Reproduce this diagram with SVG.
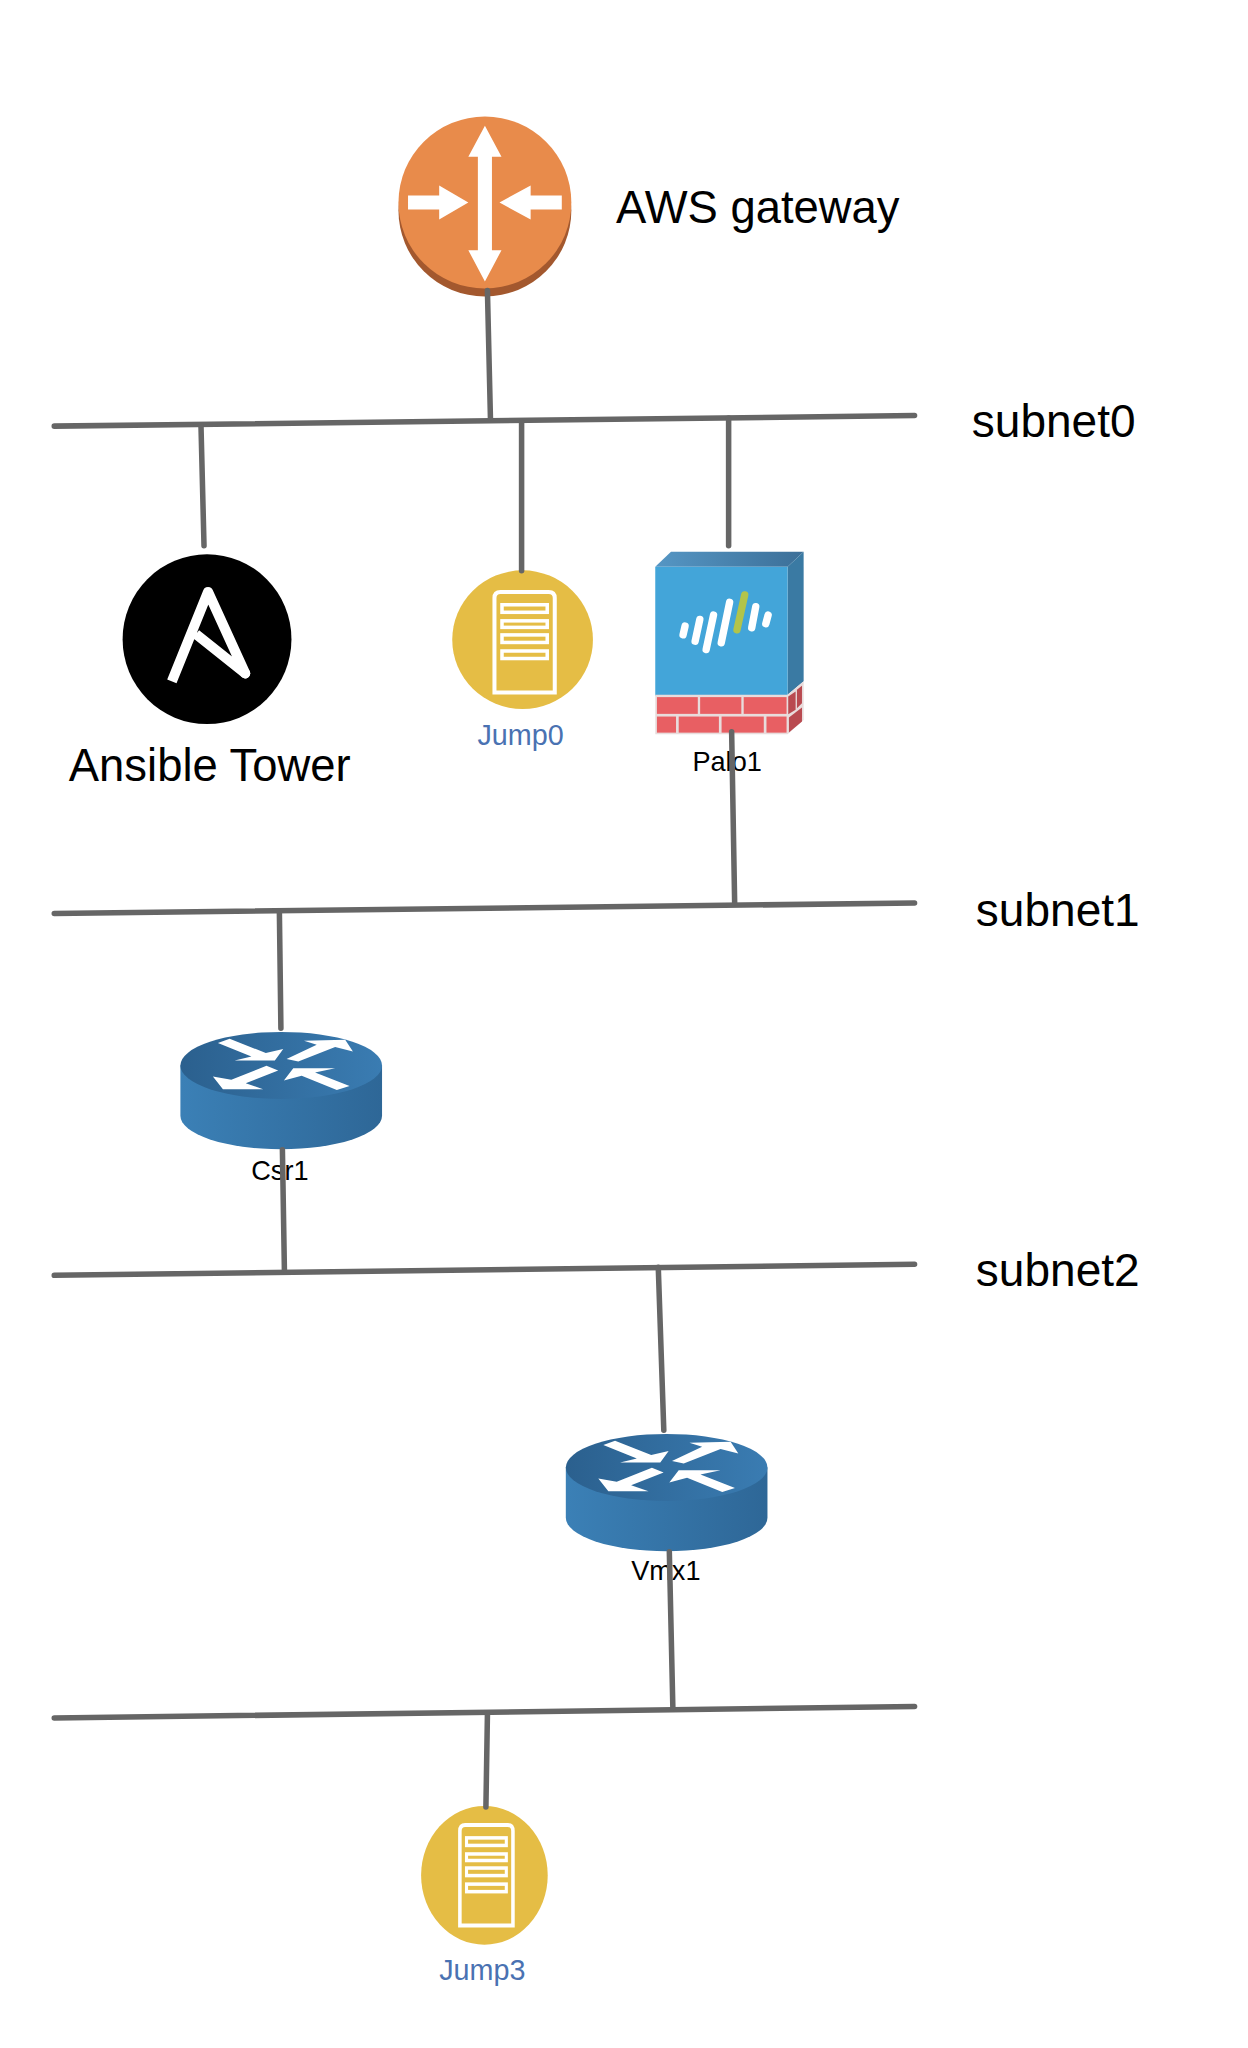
<svg xmlns="http://www.w3.org/2000/svg" width="1248" height="2048" viewBox="0 0 1248 2048">
<style>
text{font-family:"Liberation Sans",Arial,sans-serif;fill:#000}
.big{font-size:45.200px}
.sub{font-size:45.800px}
.small{font-size:27px}
.blue{font-size:28.600px;fill:#4a72b2}
.wire{stroke:#666;stroke-width:5.500;stroke-linecap:round;fill:none}
</style>
<defs>
<linearGradient id="body" x1="0" x2="1" y1="0" y2="0"><stop offset="0" stop-color="#3b80b6"/><stop offset="1" stop-color="#2e6797"/></linearGradient>
<linearGradient id="top" x1="0" x2="1" y1="0" y2="0"><stop offset="0" stop-color="#2b608e"/><stop offset="1" stop-color="#3a7cb2"/></linearGradient>
<linearGradient id="palotop" x1="0" x2="1" y1="0" y2="0"><stop offset="0" stop-color="#5596c4"/><stop offset="1" stop-color="#3c6f98"/></linearGradient>
<g id="router" transform="scale(.3333)">
<path d="M63 197V347A301 100 0 0 0 665 347V197Z" fill="url(#body)"/>
<ellipse cx="364" cy="197" rx="301" ry="100" fill="url(#top)"/>
<g fill="#fff">
<polygon points="175,130 210,117 318,160 370,148 345,182 225,182 275,170"/>
<polygon points="380,178 470,135 432,123 555,120 578,155 525,142 415,185"/>
<polygon points="160,230 190,268 310,268 258,250 355,212 320,198 215,240"/>
<polygon points="372,242 400,205 525,205 465,218 568,258 530,270 425,228"/>
</g>
</g>
<g id="server" fill="none" stroke="#fff">
<path d="M-30 52V-42Q-30 -48 -24 -48H24Q30 -48 30 -42V52Z" stroke-width="4"/>
<g stroke-width="3.500">
<rect x="-22.500" y="-35.250" width="45" height="7.500"/>
<rect x="-22.500" y="-19.250" width="45" height="6.500"/>
<rect x="-22.500" y="-5.250" width="45" height="7.500"/>
<rect x="-22.500" y="10.750" width="45" height="7.500"/>
</g>
</g>
</defs>
<rect width="1248" height="2048" fill="#fff"/>
<g id="diagram" transform="scale(1.005)">
<g id="aws-gateway">
<ellipse cx="482.500" cy="209.500" rx="86" ry="85.500" fill="#a3582e"/>
<ellipse cx="482.500" cy="201.500" rx="86" ry="85.500" fill="#e88b4b"/>
<g fill="#fff">
<polygon points="482.500,125 499,156 489.500,156 489.500,249 499,249 482.500,280 466,249 475.500,249 475.500,156 466,156"/>
<polygon points="406,194.500 437,194.500 437,184.500 466,201.500 437,218.500 437,208.500 406,208.500"/>
<polygon points="559,194.500 528,194.500 528,184.500 497,201.500 528,218.500 528,208.500 559,208.500"/>
</g>
<text class="big" x="613" y="222">AWS gateway</text>
</g>

<g id="ansible-tower">
<ellipse cx="206" cy="636" rx="84" ry="84.500" fill="#000"/>
<path d="M171 678L207 589L244 670L195 631" fill="none" stroke="#fff" stroke-width="10" stroke-linejoin="round"/>
<circle cx="244" cy="670" r="5" fill="#fff"/>
<text class="big" x="68.500" y="777">Ansible Tower</text>
</g>

<g id="jump0">
<ellipse cx="520" cy="636.500" rx="70" ry="69" fill="#e5bd45"/>
<use href="#server" transform="translate(522 637)"/>
<text class="blue" x="475" y="741">Jump0</text>
</g>

<g id="palo1">
<g transform="translate(616 528) scale(.3333)">
<polygon points="108,108 155,63 551,63 503,108" fill="url(#palotop)"/>
<polygon points="503,108 551,63 551,450 503,490" fill="#3a7aa3"/>
<rect x="108" y="108" width="395" height="385" fill="#43a5d9"/>
<polygon points="108,490 503,490 551,450 551,565 503,608 108,608" fill="#e8dcdc"/>
<g fill="#e85f63">
<rect x="113" y="497" width="122" height="50"/><rect x="242" y="497" width="123" height="50"/><rect x="372" y="497" width="128" height="50"/>
<rect x="113" y="555" width="57" height="48"/><rect x="178" y="555" width="120" height="48"/><rect x="306" y="555" width="126" height="48"/><rect x="440" y="555" width="60" height="48"/>
</g>
<g fill="#b94a50">
<polygon points="505,495 527,480 527,535 505,548"/>
<polygon points="531,475 546,463 546,515 531,530"/>
<polygon points="507,558 546,528 546,570 507,603"/>
</g>
<g fill="none" stroke="#fff" stroke-width="22" stroke-linecap="round">
<path d="M197 285L191 311"/><path d="M241 265L227 330"/><path d="M282 252L260 355"/><path d="M330 214L305 335"/><path d="M408 227L396 290"/><path d="M445 252L438 278"/>
<path d="M375 192L352 296" stroke="#b2c44a"/>
</g>
</g>
<text class="small" x="689" y="767">Palo1</text>
</g>

<g id="csr1">
<use href="#router" transform="translate(158.500 994.500)"/>
<text class="small" x="250" y="1174">Csr1</text>
</g>

<g id="vmx1">
<use href="#router" transform="translate(542 1394.500)"/>
<text class="small" x="628" y="1572">Vmx1</text>
</g>

<g id="jump3">
<ellipse cx="482" cy="1866" rx="63" ry="69" fill="#e5bd45"/>
<use href="#server" transform="translate(484 1864) scale(.88 1)"/>
<text class="blue" x="437" y="1970">Jump3</text>
</g>

<g id="subnet-labels">
<text class="sub" x="967" y="435">subnet0</text>
<text class="sub" x="971" y="921">subnet1</text>
<text class="sub" x="971" y="1280">subnet2</text>
</g>

<g id="connectors" class="wire">
<path d="M54 424L910 413.500"/>
<path d="M54 909L910 898.500"/>
<path d="M54 1269L910 1258"/>
<path d="M54 1709.500L910 1698"/>
<path d="M485 289L488 416"/>
<path d="M200 424L203 543"/>
<path d="M519 420L519 568"/>
<path d="M725 416L725 543"/>
<path d="M728 728L731 898"/>
<path d="M278 908L279.500 1023"/>
<path d="M281 1144L283 1264"/>
<path d="M655 1261L660.500 1423"/>
<path d="M666 1544L669.500 1699"/>
<path d="M485 1706L483.500 1798"/>
</g>
</g>
</svg>
